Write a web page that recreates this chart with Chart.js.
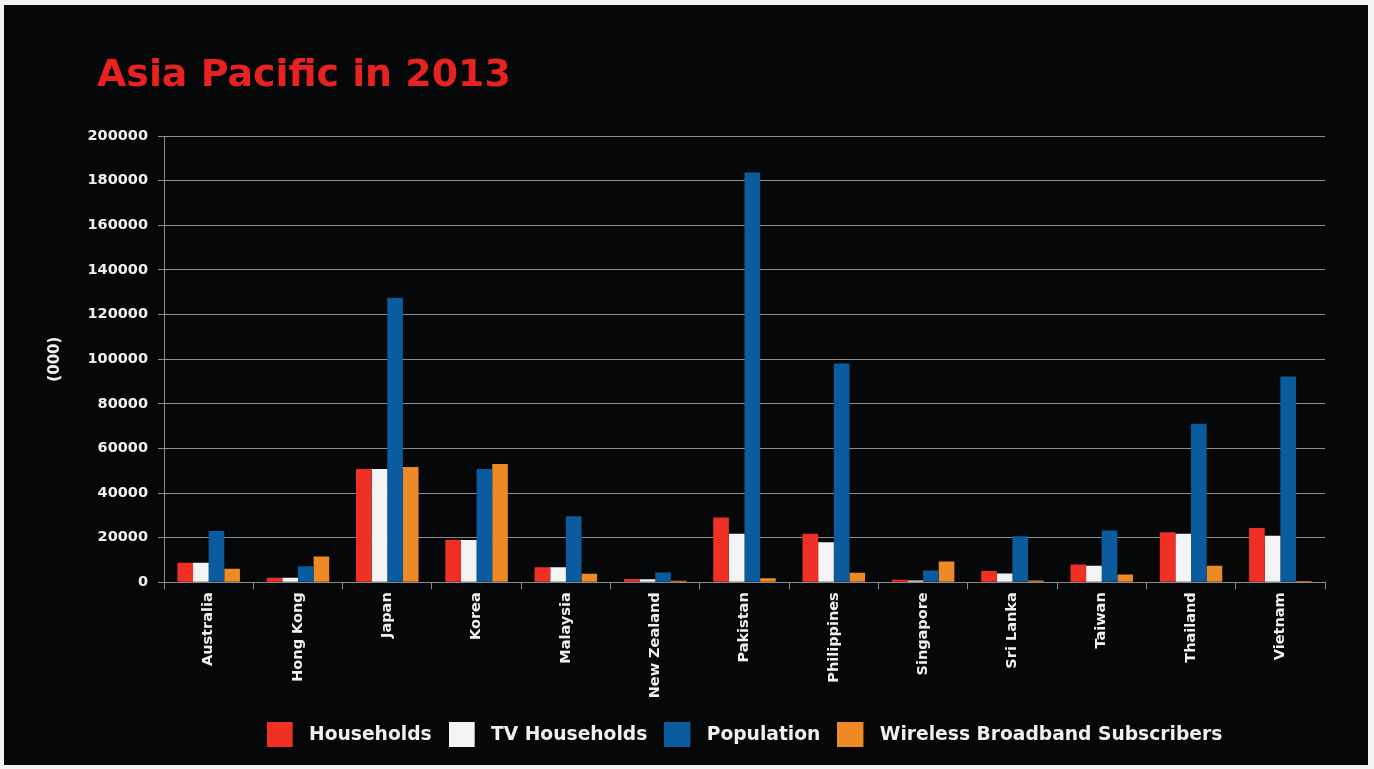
<!DOCTYPE html>
<html>
<head>
<meta charset="utf-8">
<script src="https://cdn.jsdelivr.net/npm/chart.js@4.4.1/dist/chart.umd.min.js"></script>
<style>
    body { margin: 0; background: #f2f2f2; width: 1374px; height: 769px; overflow: hidden; }
    .panel { position: absolute; left: 4px; top: 5px; width: 1364px; height: 760px; background: #060709; }
    .title { position: absolute; left: 93px; top: 50px; font-family: 'DejaVu Sans', sans-serif; font-weight: bold; font-size: 37.9px; line-height: 1; color: #e8221f; white-space: nowrap; }
    canvas { position: absolute; left: 0; top: 0; }
</style>
</head>
<body>
<div class="panel">
    <canvas id="chart" width="1364" height="760"></canvas>
    <div class="title">Asia Pacific in 2013</div>
</div>
<script>
// Categories and series (values in thousands)
const countries = ['Australia', 'Hong Kong', 'Japan', 'Korea', 'Malaysia', 'New Zealand', 'Pakistan',
    'Philippines', 'Singapore', 'Sri Lanka', 'Taiwan', 'Thailand', 'Vietnam'];
const households = [8750, 2000, 50800, 19100, 6750, 1500, 29000, 21800, 1100, 5100, 7950, 22400, 24300];
const tvHouseholds = [8750, 2000, 50800, 19000, 6750, 1400, 21800, 17900, 800, 3900, 7400, 21800, 20900];
const population = [23000, 7200, 127500, 50800, 29600, 4400, 183600, 98000, 5300, 20600, 23200, 71000, 92200];
const wirelessBroadband = [6050, 11600, 51700, 53000, 3800, 650, 1800, 4250, 9300, 800, 3500, 7400, 600];
const yTicks = [0, 20000, 40000, 60000, 80000, 100000, 120000, 140000, 160000, 180000, 200000];

const seriesColors = ['#ee3124', '#f4f4f4', '#0b5c9e', '#ee8a26'];
const gridColor = '#8c8c8c';
const textColor = '#f0f0f0';
const fontFamily = "'DejaVu Sans', sans-serif";

// legend swatch: 26x25 square with some empty room on the right for spacing
function makeSwatch(color) {
    const c = document.createElement('canvas');
    c.width = 33;
    c.height = 25;
    const ctx = c.getContext('2d');
    ctx.fillStyle = color;
    ctx.fillRect(0, 0, 26, 25);
    return c;
}
const swatches = seriesColors.map(makeSwatch);

new Chart(document.getElementById('chart'), {
    type: 'bar',
    data: {
        labels: countries,
        datasets: [
            { label: 'Households', data: households, backgroundColor: seriesColors[0] },
            { label: 'TV Households', data: tvHouseholds, backgroundColor: seriesColors[1] },
            { label: 'Population', data: population, backgroundColor: seriesColors[2] },
            { label: 'Wireless Broadband Subscribers', data: wirelessBroadband, backgroundColor: seriesColors[3] }
        ]
    },
    options: {
        responsive: false,
        animation: false,
        layout: { padding: { left: 38, right: 43, top: 131, bottom: 11 } },
        datasets: { bar: { categoryPercentage: 0.7, barPercentage: 1.0 } },
        plugins: {
            tooltip: { enabled: false },
            legend: {
                position: 'bottom',
                fullSize: false,
                labels: {
                    color: textColor,
                    font: { family: fontFamily, weight: 'bold', size: 18.7 },
                    usePointStyle: true,
                    pointStyleWidth: 33,
                    padding: 17,
                    generateLabels: (chart) => {
                        const items = Chart.defaults.plugins.legend.labels.generateLabels(chart);
                        items.forEach((item, i) => { item.pointStyle = swatches[i]; });
                        return items;
                    }
                }
            }
        },
        scales: {
            x: {
                afterFit: (scale) => { scale.height = 126; },
                grid: { display: true, offset: true, drawOnChartArea: false, color: gridColor, tickLength: 7 },
                border: { color: gridColor },
                ticks: {
                    color: textColor,
                    font: { family: fontFamily, weight: 'bold', size: 14.5 },
                    maxRotation: 90,
                    minRotation: 90,
                    padding: 3,
                    autoSkip: false
                }
            },
            y: {
                min: 0,
                max: 200000,
                afterFit: (scale) => { scale.width = 122; },
                afterBuildTicks: (scale) => { scale.ticks = yTicks.map(v => ({ value: v })); },
                grid: { color: gridColor, tickLength: 6 },
                border: { color: gridColor },
                title: {
                    display: true,
                    text: '(000)',
                    color: textColor,
                    font: { family: fontFamily, weight: 'bold', size: 15 }
                },
                ticks: {
                    color: textColor,
                    font: { family: fontFamily, weight: 'bold', size: 14.5 },
                    padding: 10,
                    callback: (v) => String(v)
                }
            }
        }
    }
});
</script>
</body>
</html>
